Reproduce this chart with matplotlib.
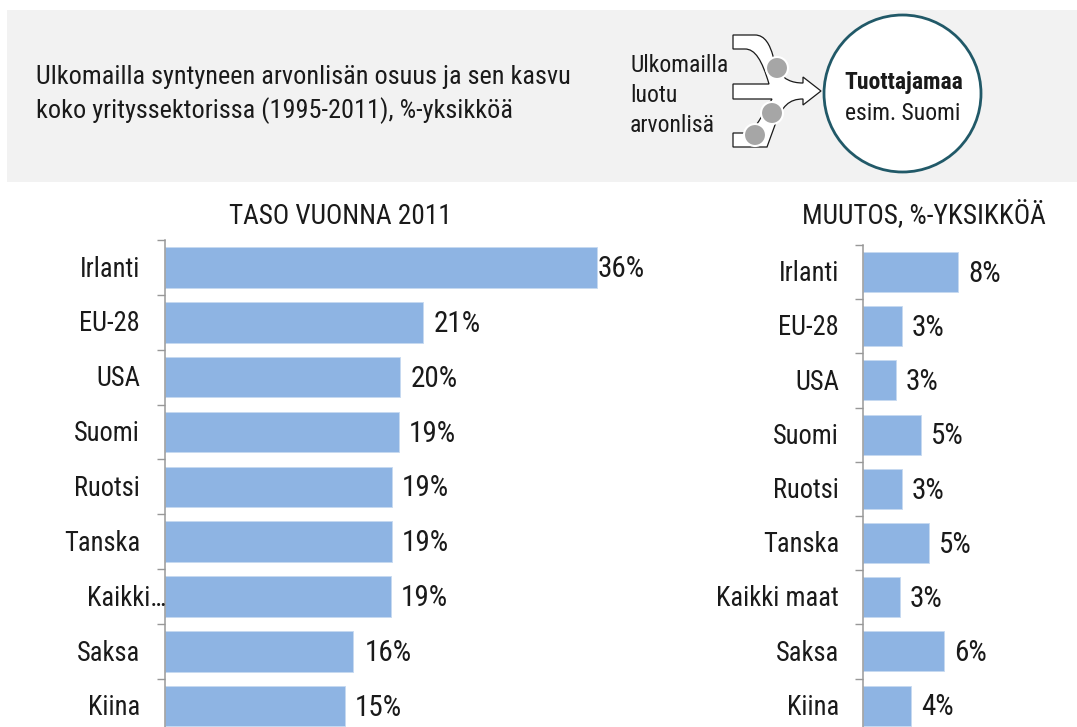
import matplotlib
matplotlib.use("Agg")
import matplotlib.pyplot as plt
from matplotlib.patches import Rectangle, Circle, PathPatch
from matplotlib.path import Path

plt.rcParams["font.family"] = ["Roboto Condensed", "DejaVu Sans"]

W, H = 1077, 727
categories_left = ["Irlanti", "EU-28", "USA", "Suomi", "Ruotsi", "Tanska", "Kaikki…", "Saksa", "Kiina"]
categories_right = ["Irlanti", "EU-28", "USA", "Suomi", "Ruotsi", "Tanska", "Kaikki maat", "Saksa", "Kiina"]
level_values = [36.0, 21.5, 19.6, 19.5, 18.9, 18.9, 18.8, 15.7, 15.0]
level_labels = ["36%", "21%", "20%", "19%", "19%", "19%", "19%", "16%", "15%"]
change_values = [7.6, 3.1, 2.6, 4.6, 3.1, 5.3, 2.96, 6.5, 3.85]
change_labels = ["8%", "3%", "3%", "5%", "3%", "5%", "3%", "6%", "4%"]

title_lines = ["Ulkomailla syntyneen arvonlisän osuus ja sen kasvu",
               "koko yrityssektorissa (1995-2011), %-yksikköä"]
left_title = "TASO VUONNA 2011"
right_title = "MUUTOS, %-YKSIKKÖÄ"
diagram_lines = ["Ulkomailla", "luotu", "arvonlisä"]

BAR = "#8eb4e3"
TXT = "#1a1a1a"
GREY = "#989898"
FS = 18.9
FS_HEAD = 19.6
FS_CAT = 19.1
FS_VAL = 21
FS2 = 17
fig = plt.figure(figsize=(W / 100, H / 100), dpi=100, facecolor="white")

bg = fig.add_axes([0, 0, 1, 1])
bg.set_xlim(0, W)
bg.set_ylim(H, 0)
bg.axis("off")
bg.add_patch(Rectangle((7, 10), 1070, 172, fc="#f2f2f2", ec="none"))
bg.text(36, 77, title_lines[0], fontsize=FS, va="center", color=TXT)
bg.text(36, 111, title_lines[1], fontsize=FS, va="center", color=TXT)
for yy, line in zip((66, 96, 126), diagram_lines):
    bg.text(630, yy, line, fontsize=FS2, va="center", color=TXT)
bg.text(340, 216, left_title, fontsize=FS_HEAD, ha="center", va="center", color=TXT)
bg.text(924, 216, right_title, fontsize=FS_HEAD, ha="center", va="center", color=TXT)

# arrow diagram
verts = [(733, 35), (755, 35),
         (765, 35), (770, 45), (773, 56),
         (776, 66), (779, 83), (803, 83),
         (803, 77), (821, 91), (803, 105), (803, 99),
         (789, 99), (782, 106), (775, 125),
         (767, 147), (733, 147), (733, 133), (746, 133),
         (752, 133), (757, 125), (772, 99),
         (733, 99), (733, 84), (769, 84),
         (762, 60), (755, 49), (745, 49),
         (733, 49), (733, 35)]
codes = [Path.MOVETO, Path.LINETO,
         Path.CURVE4, Path.CURVE4, Path.CURVE4,
         Path.CURVE4, Path.CURVE4, Path.CURVE4,
         Path.LINETO, Path.LINETO, Path.LINETO, Path.LINETO,
         Path.CURVE4, Path.CURVE4, Path.CURVE4,
         Path.LINETO, Path.LINETO, Path.LINETO, Path.LINETO,
         Path.CURVE4, Path.CURVE4, Path.CURVE4,
         Path.LINETO, Path.LINETO, Path.LINETO,
         Path.CURVE4, Path.CURVE4, Path.CURVE4,
         Path.LINETO, Path.CLOSEPOLY]
bg.add_patch(PathPatch(Path(verts, codes), fc="white", ec="#1a1a1a", lw=0.9, zorder=3))
for cx, cy in [(777, 68), (772, 113), (755, 135)]:
    bg.add_patch(Circle((cx, cy), 11, fc="#a6a6a6", ec="white", lw=1.5, zorder=4))
bg.add_patch(Circle((902.5, 93.5), 78.5, fc="white", ec="#215968", lw=2.0, zorder=3))
bg.text(904, 83, "Tuottajamaa", fontsize=FS2, weight="bold", ha="center", va="center", color=TXT, zorder=5)
bg.text(903, 114, "esim. Suomi", fontsize=FS2, ha="center", va="center", color=TXT, zorder=5)


def panel(x0, top, step, scale, cats, vals, labs, cat_pad, val_pads, bar_h):
    n = len(cats)
    ax = fig.add_axes([x0 / W, 1 - (top + n * step) / H, 200 * scale / W, n * step / H])
    ax.set_xlim(0, 200)
    ax.set_ylim(n, 0)
    ax.patch.set_alpha(0)
    ax.barh([i + 0.5 for i in range(n)], vals, height=bar_h / step, color=BAR,
            edgecolor="#c6d9f1", linewidth=0.6, zorder=2)
    for s in ("top", "right", "bottom"):
        ax.spines[s].set_visible(False)
    ax.spines["left"].set_color(GREY)
    ax.spines["left"].set_linewidth(1.1)
    ax.xaxis.set_visible(False)
    ax.set_yticks(range(n))
    ax.set_yticklabels([])
    ax.tick_params(axis="y", length=6, width=1, color=GREY)
    for i, (c, v, l) in enumerate(zip(cats, vals, labs)):
        ax.annotate(c, (0, i + 0.5), xytext=(-cat_pad[i] * 0.72, -1.2), textcoords="offset points",
                    ha="right", va="center", fontsize=FS_CAT, color=TXT, annotation_clip=False)
        ax.annotate(l, (v, i + 0.5), xytext=(val_pads[i] * 0.72, -1.2), textcoords="offset points",
                    ha="left", va="center", fontsize=FS_VAL, color=TXT, annotation_clip=False)
    return ax


panel(165, 240, 54.85, 12.0, categories_left, level_values, level_labels,
      [25, 25, 25, 25, 25, 25, -1, 25, 25], [1, 11, 10, 10, 10, 10, 10, 11, 10], 40.5)
panel(863, 245, 54.2, 12.5, categories_right, change_values, change_labels,
      [24] * 9, [10] * 9, 40)

fig.savefig("out.png", dpi=100)
